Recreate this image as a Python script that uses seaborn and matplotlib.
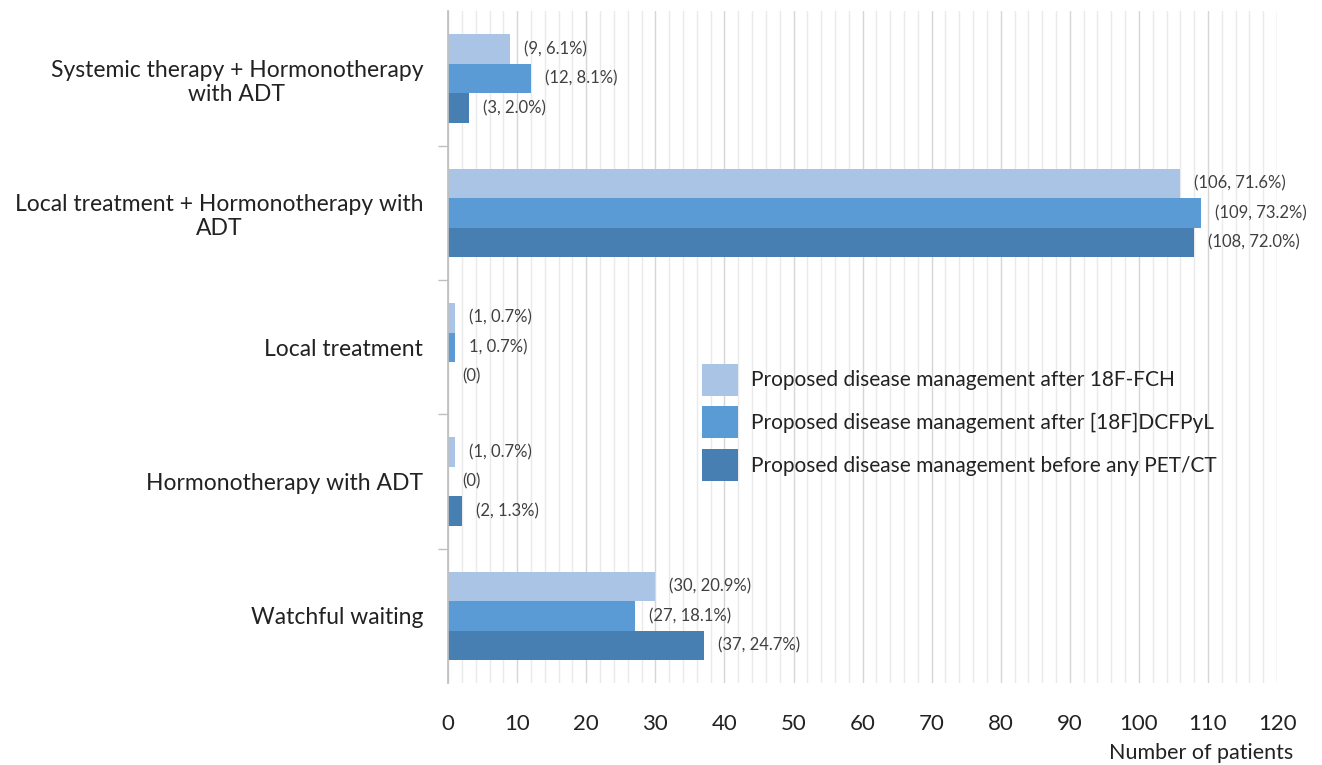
import matplotlib
matplotlib.use("Agg")
import matplotlib.pyplot as plt
import seaborn as sns
import pandas as pd
import numpy as np
from matplotlib.ticker import MultipleLocator, FixedLocator

categories = [
    "Systemic therapy + Hormonotherapy\nwith ADT",
    "Local treatment + Hormonotherapy with\nADT",
    "Local treatment",
    "Hormonotherapy with ADT",
    "Watchful waiting",
]
series = [
    "Proposed disease management after 18F-FCH",
    "Proposed disease management after [18F]DCFPyL",
    "Proposed disease management before any PET/CT",
]
after_fch = [9, 106, 1, 1, 30]
after_dcfpyl = [12, 109, 1, 0, 27]
before_pet = [3, 108, 0, 2, 37]
labels_fch = ["(9, 6.1%)", "(106, 71.6%)", "(1, 0.7%)", "(1, 0.7%)", "(30, 20.9%)"]
labels_dcfpyl = ["(12, 8.1%)", "(109, 73.2%)", "1, 0.7%)", "(0)", "(27, 18.1%)"]
labels_before = ["(3, 2.0%)", "(108, 72.0%)", "(0)", "(2, 1.3%)", "(37, 24.7%)"]
x_ticks = list(range(0, 121, 10))

colors = ["#A9C4E5", "#5B9BD5", "#487FB3"]

sns.set_theme(style="white")
plt.rcParams["font.family"] = ["Lato", "DejaVu Sans"]

rows = []
for s, vals in zip(series, [after_fch, after_dcfpyl, before_pet]):
    for c, v in zip(categories, vals):
        rows.append({"category": c, "series": s, "value": v})
df = pd.DataFrame(rows)

fig = plt.figure(figsize=(13.22, 7.65), dpi=100)
ax = fig.add_axes([0.339, 0.107, 0.627, 0.878])

sns.barplot(data=df, y="category", x="value", hue="series", order=categories,
            hue_order=series, palette=colors, orient="h", width=0.66,
            saturation=1, linewidth=0, ax=ax, legend=True)

for cont, labs in zip(ax.containers, [labels_fch, labels_dcfpyl, labels_before]):
    ax.bar_label(cont, labels=labs, padding=10, fontsize=12, color="#404040")

ax.set_xlim(0, 120)
ax.xaxis.set_major_locator(FixedLocator(x_ticks))
ax.xaxis.set_minor_locator(MultipleLocator(2))
ax.grid(True, axis="x", which="minor", color="#EAEAEA", linewidth=1.0)
ax.grid(True, axis="x", which="major", color="#D6D6D6", linewidth=1.0)
ax.set_axisbelow(True)
ax.tick_params(axis="x", which="both", length=0, labelsize=16, pad=22, colors="#222222")

ax.set_ylim(4.5, -0.5)
ax.yaxis.set_minor_locator(FixedLocator([0.5, 1.5, 2.5, 3.5]))
ax.tick_params(axis="y", which="major", length=0, labelsize=16.5, pad=18, colors="#222222")
ax.tick_params(axis="y", which="minor", length=7, color="#BFBFBF", left=True)
for lab in ax.get_yticklabels():
    lab.set_multialignment("center")

for side in ["top", "right", "bottom"]:
    ax.spines[side].set_visible(False)
ax.spines["left"].set_color("#BFBFBF")

ax.set_ylabel("")
ax.set_xlabel("")
fig.text(0.978, 0.002, "Number of patients", ha="right", va="bottom", fontsize=15.5, color="#222222")

leg = ax.legend(loc="upper left", bbox_to_anchor=(0.296, 0.488), frameon=False,
                fontsize=15, handlelength=1.75, handleheight=2.0, labelspacing=0.5,
                handletextpad=0.6, borderaxespad=0)
for t in leg.get_texts():
    t.set_color("#222222")

fig.savefig("out.png", dpi=100)
